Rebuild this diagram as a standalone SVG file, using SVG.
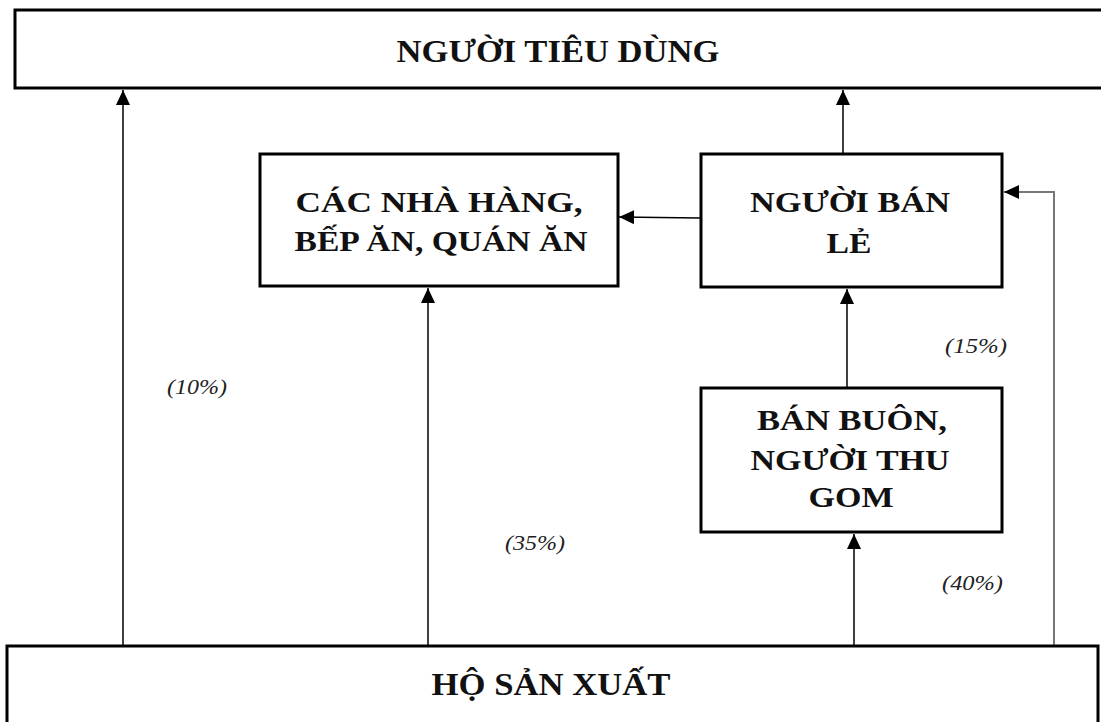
<svg xmlns="http://www.w3.org/2000/svg" width="1101" height="722" viewBox="0 0 1101 722">
<defs>
<style>
.box{fill:#fff;stroke:#000;stroke-width:3}
.lbl{font-family:"Liberation Serif","Times New Roman",serif;font-weight:bold;fill:#111;text-anchor:middle}
.pct{font-family:"Liberation Serif","Times New Roman",serif;font-style:italic;font-size:21px;fill:#222}
.con{fill:none;stroke:#000;stroke-width:1.5}
.gray{fill:none;stroke:#777;stroke-width:2}
</style>
<marker id="ah" markerUnits="userSpaceOnUse" markerWidth="16" markerHeight="16" viewBox="0 0 16 16" refX="15" refY="7" orient="auto">
<path d="M0,0 L15,7 L0,14 z" fill="#000"/>
</marker>
</defs>
<rect width="1101" height="722" fill="#fff"/>
<g id="connectors">
<line class="con" x1="123" y1="646" x2="123" y2="90" marker-end="url(#ah)"/>
<line class="con" x1="428" y1="646" x2="428" y2="288" marker-end="url(#ah)"/>
<line class="con" x1="854" y1="646" x2="854" y2="534" marker-end="url(#ah)"/>
<line class="con" x1="847" y1="388" x2="847" y2="289" marker-end="url(#ah)"/>
<line class="con" x1="843" y1="153" x2="843" y2="90" marker-end="url(#ah)"/>
<line class="con" x1="700" y1="218" x2="619" y2="217" marker-end="url(#ah)"/>
<polyline class="gray" points="1054,646 1054,192 1004,192" marker-end="url(#ah)"/>
</g>
<g id="consumer">
<rect class="box" x="15" y="10" width="1100" height="78"/>
<text class="lbl" x="558" y="62" font-size="32" textLength="323" lengthAdjust="spacingAndGlyphs">NGƯỜI TIÊU DÙNG</text>
</g>
<g id="restaurants">
<rect class="box" x="260" y="154" width="358" height="132"/>
<text class="lbl" x="439" y="212" font-size="30" textLength="287" lengthAdjust="spacingAndGlyphs">CÁC NHÀ HÀNG,</text>
<text class="lbl" x="441" y="251" font-size="30" textLength="293" lengthAdjust="spacingAndGlyphs">BẾP ĂN, QUÁN ĂN</text>
</g>
<g id="retailer">
<rect class="box" x="701" y="154" width="301" height="133"/>
<text class="lbl" x="850" y="212" font-size="30" textLength="200" lengthAdjust="spacingAndGlyphs">NGƯỜI BÁN</text>
<text class="lbl" x="849" y="253" font-size="30" textLength="45" lengthAdjust="spacingAndGlyphs">LẺ</text>
</g>
<g id="wholesaler">
<rect class="box" x="701" y="388" width="301" height="144"/>
<text class="lbl" x="852" y="430" font-size="30" textLength="190" lengthAdjust="spacingAndGlyphs">BÁN BUÔN,</text>
<text class="lbl" x="850" y="470" font-size="30" textLength="199" lengthAdjust="spacingAndGlyphs">NGƯỜI THU</text>
<text class="lbl" x="851" y="507" font-size="30" textLength="85" lengthAdjust="spacingAndGlyphs">GOM</text>
</g>
<g id="producer">
<rect class="box" x="7" y="646" width="1091" height="90"/>
<text class="lbl" x="551" y="695" font-size="32" textLength="239" lengthAdjust="spacingAndGlyphs">HỘ SẢN XUẤT</text>
</g>
<g id="labels">
<text class="pct" x="167" y="394" textLength="60" lengthAdjust="spacingAndGlyphs">(10%)</text>
<text class="pct" x="505" y="550" textLength="60" lengthAdjust="spacingAndGlyphs">(35%)</text>
<text class="pct" x="945" y="353" textLength="62" lengthAdjust="spacingAndGlyphs">(15%)</text>
<text class="pct" x="942" y="590" textLength="61" lengthAdjust="spacingAndGlyphs">(40%)</text>
</g>
</svg>
